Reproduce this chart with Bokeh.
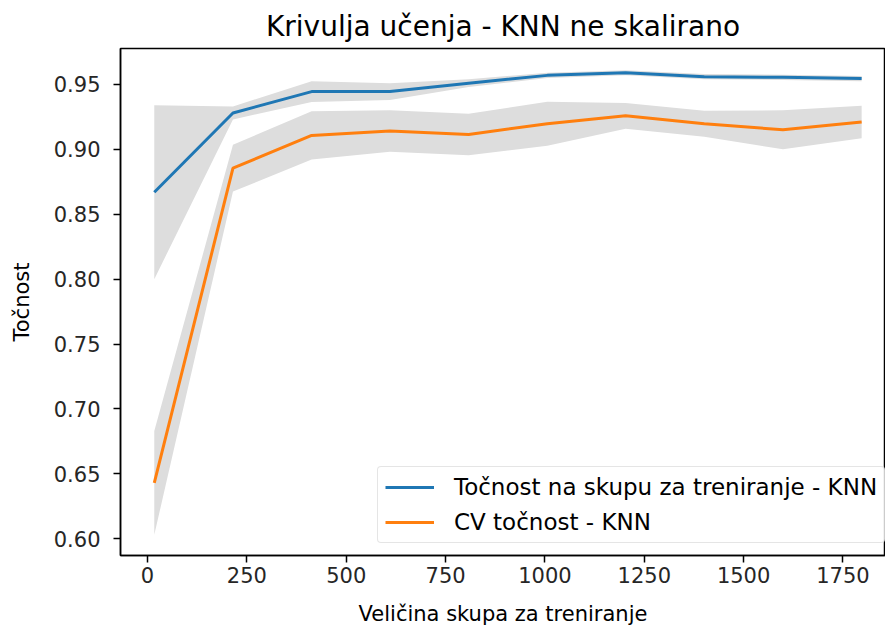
from bokeh.plotting import figure
from bokeh.embed import file_html
from bokeh.resources import INLINE
from bokeh.models import FixedTicker, NumeralTickFormatter, Legend, LegendItem
import numpy as np

train_sizes = [17, 215, 413, 610, 808, 1006, 1203, 1401, 1599, 1797]
train_mean = [0.867, 0.928, 0.9445, 0.9445, 0.951, 0.957, 0.959, 0.956, 0.9555, 0.9545]
train_std = [0.067, 0.005, 0.008, 0.0065, 0.003, 0.002, 0.002, 0.002, 0.002, 0.002]
cv_mean = [0.643, 0.8855, 0.9107, 0.9142, 0.9115, 0.9197, 0.9258, 0.9197, 0.9151, 0.921]
cv_std = [0.040, 0.018, 0.0186, 0.016, 0.016, 0.017, 0.010, 0.010, 0.015, 0.0125]

x_ticks = [0, 250, 500, 750, 1000, 1250, 1500, 1750]
y_ticks = [0.60, 0.65, 0.70, 0.75, 0.80, 0.85, 0.90, 0.95]

title = "Krivulja učenja - KNN ne skalirano"
x_label = "Veličina skupa za treniranje"
y_label = "Točnost"
labels = ["Točnost na skupu za treniranje - KNN", "CV točnost - KNN"]

FONT = "DejaVu Sans"
BLUE = "#1f77b4"
ORANGE = "#ff7f0e"
BAND = "#dddddd"

p = figure(width=885, height=630, output_backend="svg", toolbar_location=None,
           x_range=(-68, 1857), y_range=(0.5871, 0.9777),
           min_border_left=120, min_border_right=0, min_border_top=48, min_border_bottom=75)

tm = np.array(train_mean); ts = np.array(train_std)
cm = np.array(cv_mean); cs = np.array(cv_std)

p.varea(x=train_sizes, y1=tm - ts, y2=tm + ts, fill_color=BAND, fill_alpha=1.0)
p.varea(x=train_sizes, y1=cm - cs, y2=cm + cs, fill_color=BAND, fill_alpha=1.0)
r1 = p.line(train_sizes, train_mean, line_color=BLUE, line_width=3)
r2 = p.line(train_sizes, cv_mean, line_color=ORANGE, line_width=3)

p.title.text = title
p.title.text_font = FONT
p.title.text_font_size = "28px"
p.title.text_font_style = "normal"
p.title.align = "center"
p.title.vertical_align = "top"
p.title.text_color = "#000000"
p.title.standoff = 8

p.xgrid.visible = False
p.ygrid.visible = False
p.outline_line_color = "#000000"
p.outline_line_width = 1.5

for ax in (p.xaxis[0], p.yaxis[0]):
    ax.major_label_text_font = FONT
    ax.major_label_text_font_size = "21px"
    ax.major_label_text_color = "#262626"
    ax.axis_label_text_font = FONT
    ax.axis_label_text_font_size = "21px"
    ax.axis_label_text_font_style = "normal"
    ax.axis_label_text_color = "#000000"
    ax.axis_line_color = "#000000"
    ax.axis_line_width = 1.5
    ax.major_tick_line_color = "#000000"
    ax.major_tick_line_width = 1.5
    ax.major_tick_out = 7
    ax.major_tick_in = 0
    ax.minor_tick_out = 0
    ax.minor_tick_in = 0

p.xaxis[0].ticker = FixedTicker(ticks=x_ticks)
p.yaxis[0].ticker = FixedTicker(ticks=y_ticks)
p.yaxis[0].formatter = NumeralTickFormatter(format="0.00")
p.xaxis[0].axis_label = x_label
p.yaxis[0].axis_label = y_label
p.xaxis[0].major_label_standoff = 4
p.xaxis[0].axis_label_standoff = 16
p.yaxis[0].major_label_standoff = 13
p.yaxis[0].axis_label_standoff = 17

legend = Legend(items=[LegendItem(label=labels[0], renderers=[r1]),
                       LegendItem(label=labels[1], renderers=[r2])],
                location=(257, 12))
legend.label_text_font = FONT
legend.label_text_font_size = "23px"
legend.label_text_color = "#000000"
legend.glyph_width = 49
legend.glyph_height = 26
legend.label_height = 26
legend.label_standoff = 20
legend.spacing = 9
legend.padding = 7
legend.margin = 0
legend.border_line_color = "#cccccc"
legend.border_line_width = 1
legend.border_radius = 4
legend.background_fill_alpha = 0.8
p.add_layout(legend)

open("out.html", "w").write(file_html(p, INLINE))
